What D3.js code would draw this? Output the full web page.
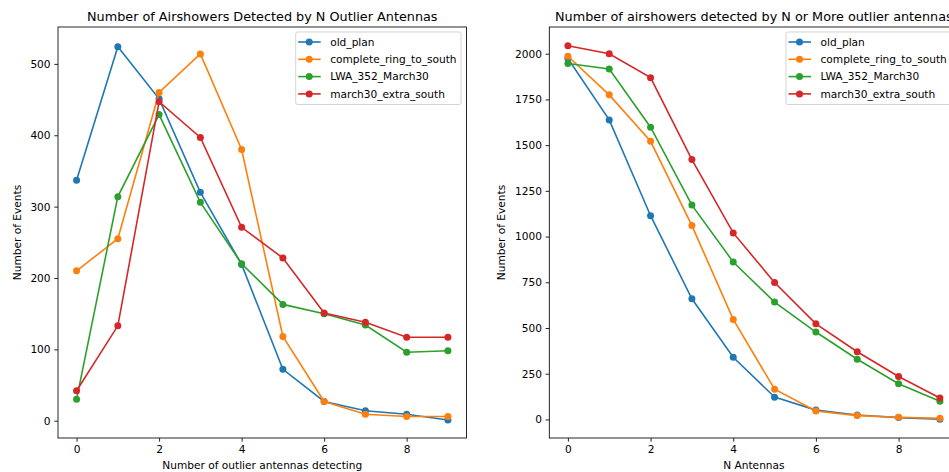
<!DOCTYPE html>
<html>
<head>
<meta charset="utf-8">
<script src="https://cdn.jsdelivr.net/npm/d3@7"></script>
<style>
  html, body { margin: 0; padding: 0; background: #fff; overflow: hidden; }
  svg { display: block; font-family: "DejaVu Sans", sans-serif; }
</style>
</head>
<body>
<svg id="fig" width="949" height="472"></svg>
<script>
// Antenna counts on the x axis
const nAntennas = [0, 1, 2, 3, 4, 5, 6, 7, 8, 9];

const seriesNames = ["old_plan", "complete_ring_to_south", "LWA_352_March30", "march30_extra_south"];
const seriesColors = ["#1f77b4", "#ff7f0e", "#2ca02c", "#d62728"];

// Events detected by exactly N outlier antennas
const exactOldPlan      = [337, 524, 451, 320, 219, 72, 27, 14, 9, 1];
const exactCompleteRing = [210, 255, 460, 514, 380, 118, 27, 9, 6, 6];
const exactLwa352       = [30, 314, 429, 306, 220, 163, 150, 134, 96, 98];
const exactMarch30Extra = [42, 133, 447, 397, 271, 228, 151, 138, 117, 117];

// Events detected by N or more outlier antennas
const atLeastOldPlan      = [1974, 1638, 1114, 660, 340, 122, 51, 24, 10, 1];
const atLeastCompleteRing = [1986, 1775, 1521, 1060, 547, 165, 46, 21, 12, 6];
const atLeastLwa352       = [1946, 1916, 1598, 1172, 861, 642, 478, 329, 195, 99];
const atLeastMarch30Extra = [2043, 2000, 1869, 1421, 1020, 749, 523, 370, 235, 117];

const leftTicksY  = [0, 100, 200, 300, 400, 500];
const rightTicksY = [0, 250, 500, 750, 1000, 1250, 1500, 1750, 2000];
const ticksX = [0, 2, 4, 6, 8];

const FONT = 10.6;
const TITLE_FONT = 12.8;

const svg = d3.select("#fig");

function drawPanel(cfg) {
  const g = svg.append("g");
  const x = d3.scaleLinear().domain([-0.45, 9.45]).range([cfg.left, cfg.right]);
  const y = d3.scaleLinear().domain(cfg.yDomain).range([cfg.bottom, cfg.top]);

  // series
  cfg.series.forEach((vals, i) => {
    const pts = nAntennas.map((n, k) => [n, vals[k]]);
    g.append("path")
      .attr("d", d3.line().x(d => x(d[0])).y(d => y(d[1]))(pts))
      .attr("fill", "none")
      .attr("stroke", seriesColors[i])
      .attr("stroke-width", 1.6);
    g.selectAll(null).data(pts).enter().append("circle")
      .attr("cx", d => x(d[0])).attr("cy", d => y(d[1]))
      .attr("r", 3.5).attr("fill", seriesColors[i]);
  });

  // axes
  const xAxis = d3.axisBottom(x).tickValues(ticksX).tickSize(3.7).tickPadding(3.7).tickFormat(d3.format("d"));
  const yAxis = d3.axisLeft(y).tickValues(cfg.yTicks).tickSize(3.7).tickPadding(3.7).tickFormat(d3.format("d"));
  const gx = g.append("g").attr("transform", `translate(0,${cfg.bottom})`).call(xAxis);
  const gy = g.append("g").attr("transform", `translate(${cfg.left},0)`).call(yAxis);
  [gx, gy].forEach(a => {
    a.select(".domain").remove();
    a.selectAll("text").attr("font-size", FONT).attr("fill", "#000").attr("font-family", "DejaVu Sans, sans-serif");
    a.selectAll("line").attr("stroke", "#000").attr("stroke-width", 0.85);
  });

  // frame
  g.append("rect")
    .attr("x", cfg.left).attr("y", cfg.top)
    .attr("width", cfg.right - cfg.left).attr("height", cfg.bottom - cfg.top)
    .attr("fill", "none").attr("stroke", "#000").attr("stroke-width", 0.85);

  // titles
  g.append("text").attr("x", (cfg.left + cfg.right) / 2).attr("y", 20.5)
    .attr("text-anchor", "middle").attr("font-size", TITLE_FONT).text(cfg.title);
  g.append("text").attr("x", (cfg.left + cfg.right) / 2).attr("y", 469)
    .attr("text-anchor", "middle").attr("font-size", FONT).text(cfg.xLabel);
  g.append("text")
    .attr("transform", `translate(${cfg.yLabelX},${(cfg.top + cfg.bottom) / 2}) rotate(-90)`)
    .attr("text-anchor", "middle").attr("font-size", FONT).text("Number of Events");

  // legend
  const lg = g.append("g").attr("transform", `translate(${cfg.legendX},${cfg.top + 5})`);
  lg.append("rect").attr("x", 0).attr("y", 0).attr("width", 165.3).attr("height", 72.5)
    .attr("rx", 2).attr("fill", "#fff").attr("fill-opacity", 0.8)
    .attr("stroke", "#cccccc").attr("stroke-width", 0.85);
  seriesNames.forEach((name, i) => {
    const yy = 10 + i * 17.3;
    lg.append("line").attr("x1", 2.5).attr("x2", 25).attr("y1", yy).attr("y2", yy)
      .attr("stroke", seriesColors[i]).attr("stroke-width", 1.6);
    lg.append("circle").attr("cx", 13.5).attr("cy", yy).attr("r", 3.5).attr("fill", seriesColors[i]);
    lg.append("text").attr("x", 34.5).attr("y", yy + 3.8).attr("font-size", FONT).text(name);
  });
}

drawPanel({
  left: 58, right: 466.5, top: 27, bottom: 438,
  yDomain: [-24.2, 551.7], yTicks: leftTicksY,
  series: [exactOldPlan, exactCompleteRing, exactLwa352, exactMarch30Extra],
  title: "Number of Airshowers Detected by N Outlier Antennas",
  xLabel: "Number of outlier antennas detecting",
  yLabelX: 21, legendX: 295.7
});

drawPanel({
  left: 549.3, right: 958.5, top: 27, bottom: 438,
  yDomain: [-101.5, 2146], yTicks: rightTicksY,
  series: [atLeastOldPlan, atLeastCompleteRing, atLeastLwa352, atLeastMarch30Extra],
  title: "Number of airshowers detected by N or More outlier antennas",
  xLabel: "N Antennas",
  yLabelX: 505, legendX: 786
});
</script>
</body>
</html>
